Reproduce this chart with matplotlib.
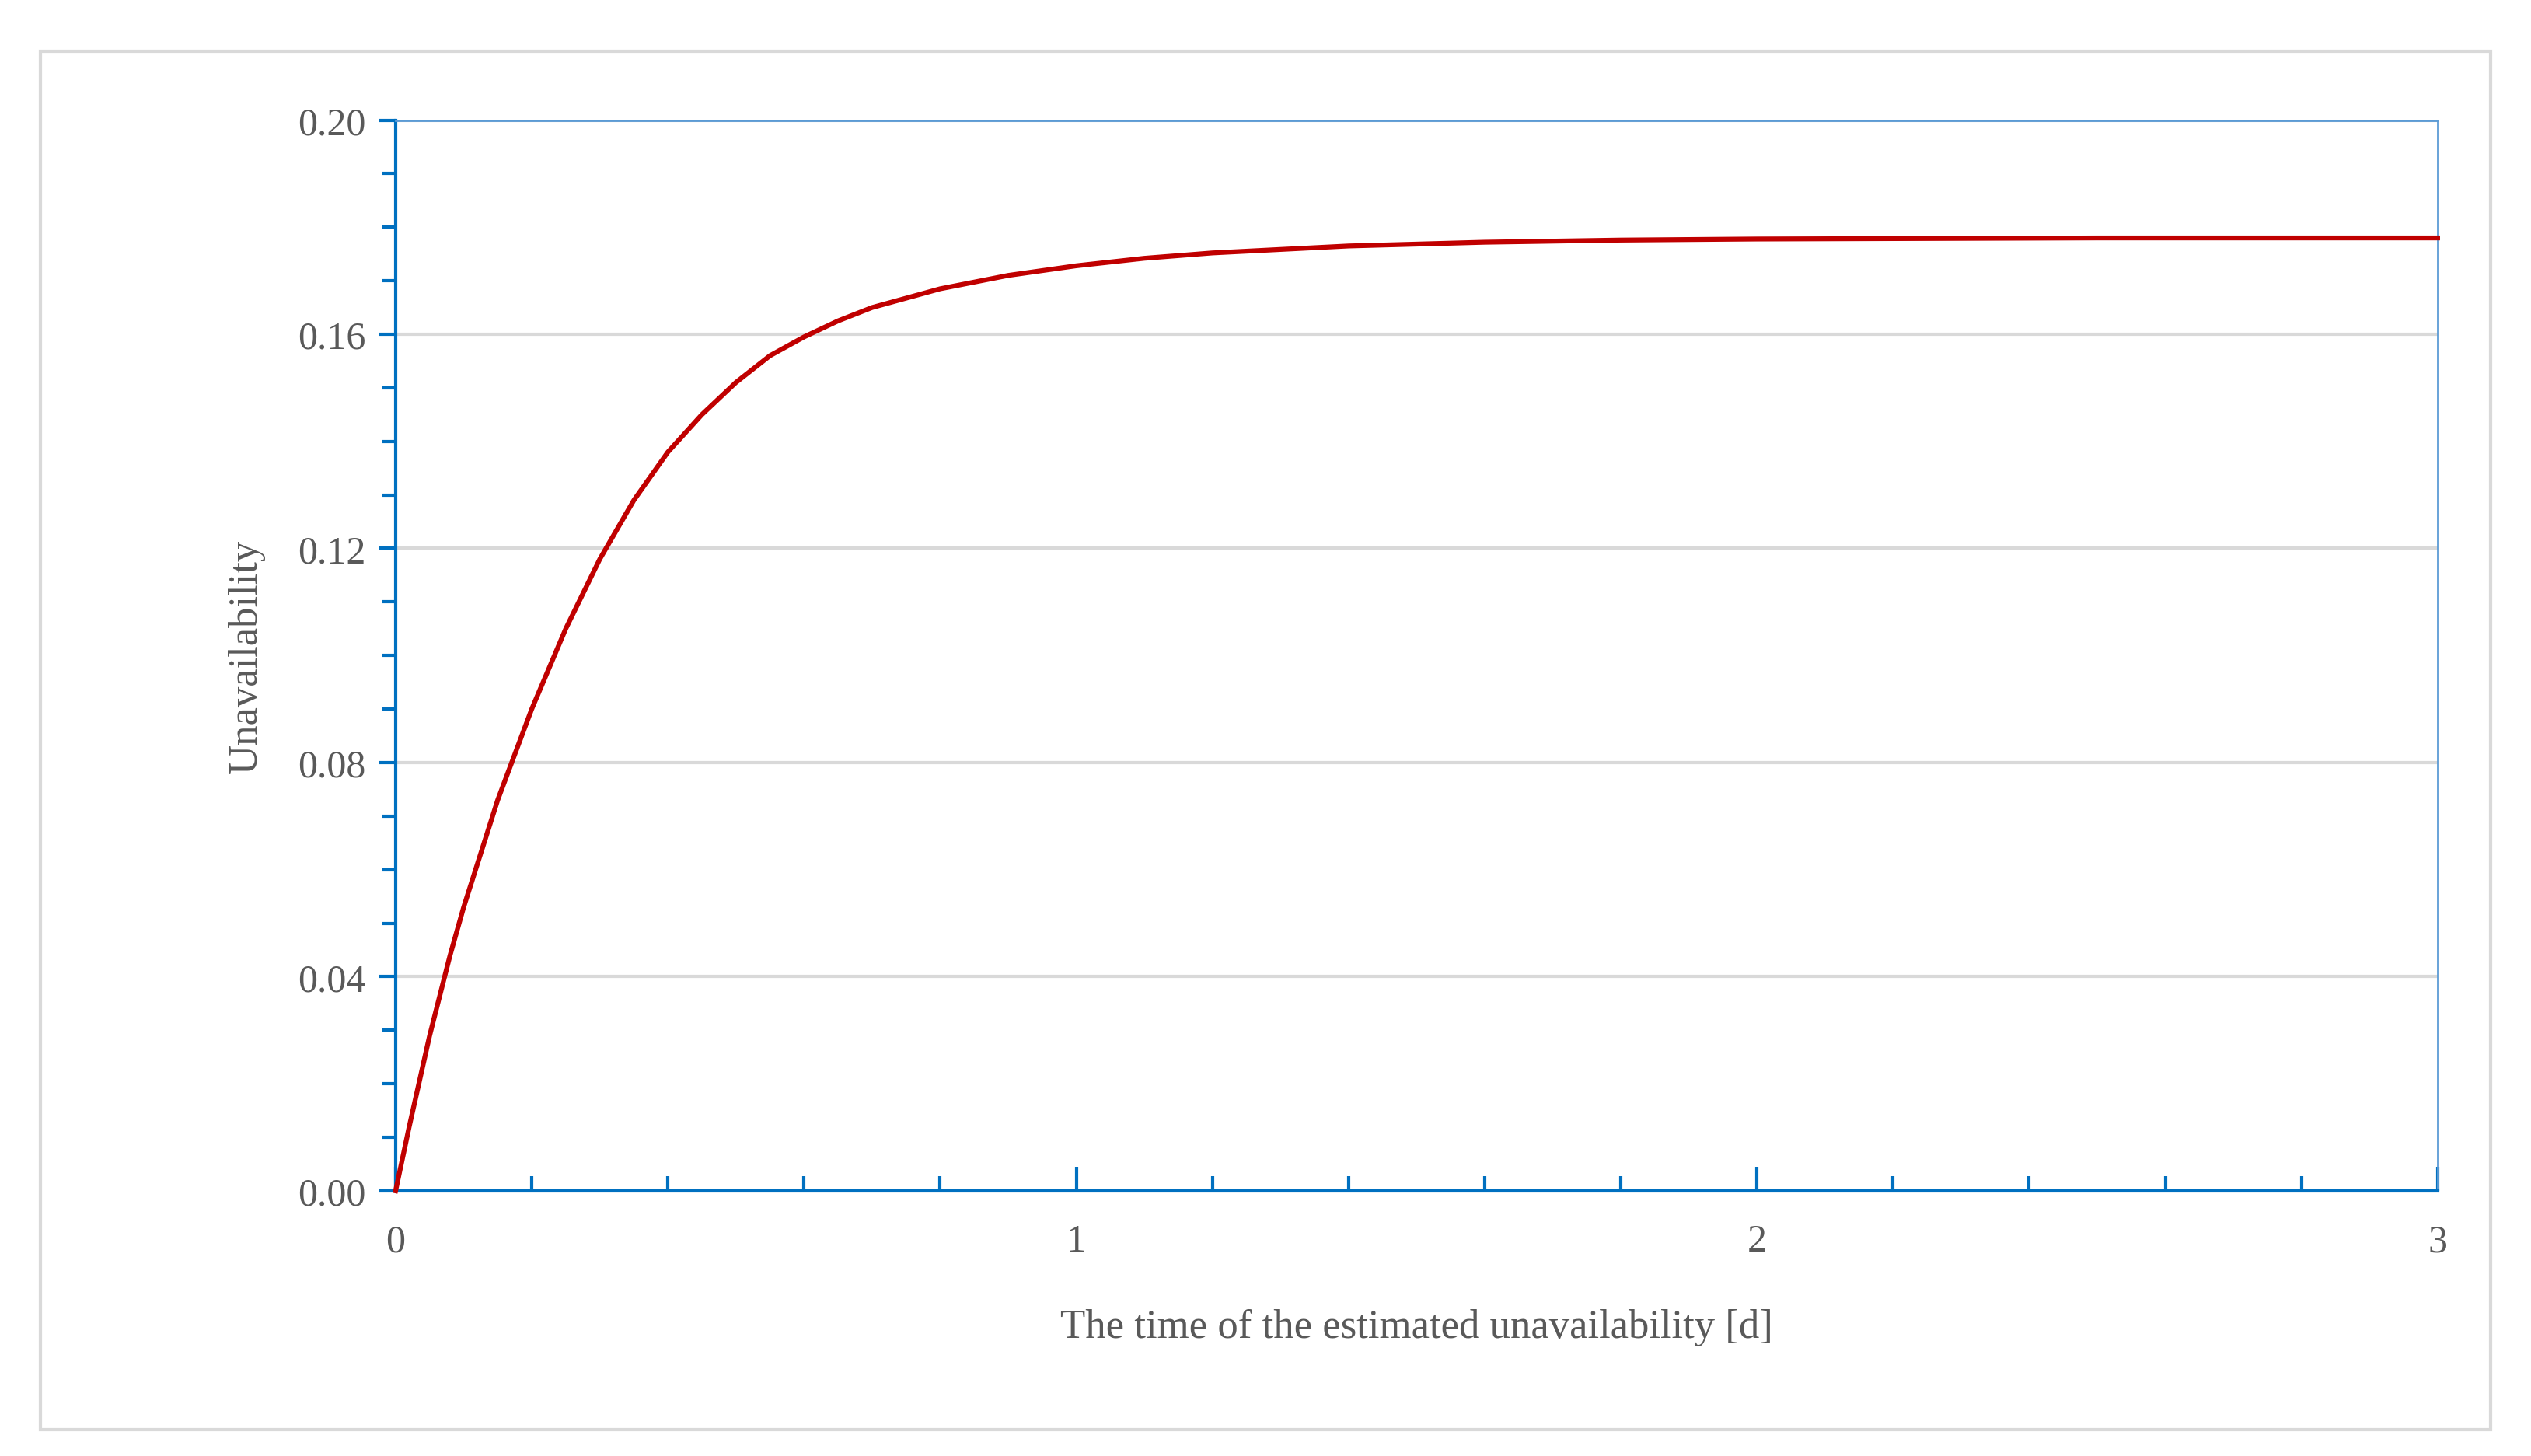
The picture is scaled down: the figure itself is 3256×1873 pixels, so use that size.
import matplotlib
matplotlib.use('Agg')
import matplotlib.pyplot as plt
from matplotlib.patches import Rectangle
from matplotlib.ticker import MultipleLocator

# values
time_d = [0.0, 0.02, 0.05, 0.08, 0.1, 0.15, 0.2, 0.25, 0.3, 0.35, 0.4, 0.45, 0.5,
          0.55, 0.6, 0.65, 0.7, 0.8, 0.9, 1.0, 1.1, 1.2, 1.4, 1.6, 1.8, 2.0, 2.5, 3.0]
unavail = [0.0, 0.012, 0.029, 0.044, 0.053, 0.073, 0.090, 0.105, 0.118, 0.129, 0.138,
           0.145, 0.151, 0.156, 0.1595, 0.1625, 0.165, 0.1685, 0.171, 0.1728, 0.1742,
           0.1752, 0.1765, 0.1772, 0.1776, 0.1778, 0.1780, 0.1780]

x_labels = ['0', '1', '2', '3']
y_labels = ['0.00', '0.04', '0.08', '0.12', '0.16', '0.20']

plt.rcParams['font.family'] = ['Liberation Serif', 'DejaVu Serif']
grey = '#595959'
blue = '#0070C0'

fig = plt.figure(figsize=(32.56, 18.74), dpi=100)
fig.patches.append(Rectangle((0.016, 0.018), 0.968, 0.946, transform=fig.transFigure,
                             fill=False, edgecolor='#D9D9D9', linewidth=3))
ax = fig.add_axes([0.1563, 0.182, 0.8068, 0.735])

ax.plot(time_d, unavail, color='#C00000', linewidth=4.5, zorder=3, clip_on=False)
ax.set_xlim(0, 3)
ax.set_ylim(0, 0.2)
ax.set_xticks(range(4))
ax.set_xticklabels(x_labels)
ax.set_yticks([0, 0.04, 0.08, 0.12, 0.16, 0.2])
ax.set_yticklabels(y_labels)
ax.xaxis.set_minor_locator(MultipleLocator(0.2))
ax.yaxis.set_minor_locator(MultipleLocator(0.01))
ax.grid(axis='y', color='#D9D9D9', linewidth=3)
ax.set_axisbelow(True)

for s in ['left', 'bottom']:
    ax.spines[s].set_color(blue)
    ax.spines[s].set_linewidth(3)
for s in ['top', 'right']:
    ax.spines[s].set_color('#5B9BD5')
    ax.spines[s].set_linewidth(2)

ax.tick_params(axis='x', which='both', direction='in', color=blue, width=3,
               labelsize=36, labelcolor=grey, pad=30)
ax.tick_params(axis='x', which='major', length=22)
ax.tick_params(axis='x', which='minor', length=14)
ax.tick_params(axis='y', which='both', direction='out', color=blue, width=3,
               labelsize=36, labelcolor=grey, pad=12)
ax.tick_params(axis='y', which='major', length=16)
ax.tick_params(axis='y', which='minor', length=12)

ax.set_xlabel('The time of the estimated unavailability [d]', fontsize=38, color=grey, labelpad=45)
ax.set_ylabel('Unavailability', fontsize=38, color=grey, labelpad=30)

fig.savefig('out.png', dpi=100)
